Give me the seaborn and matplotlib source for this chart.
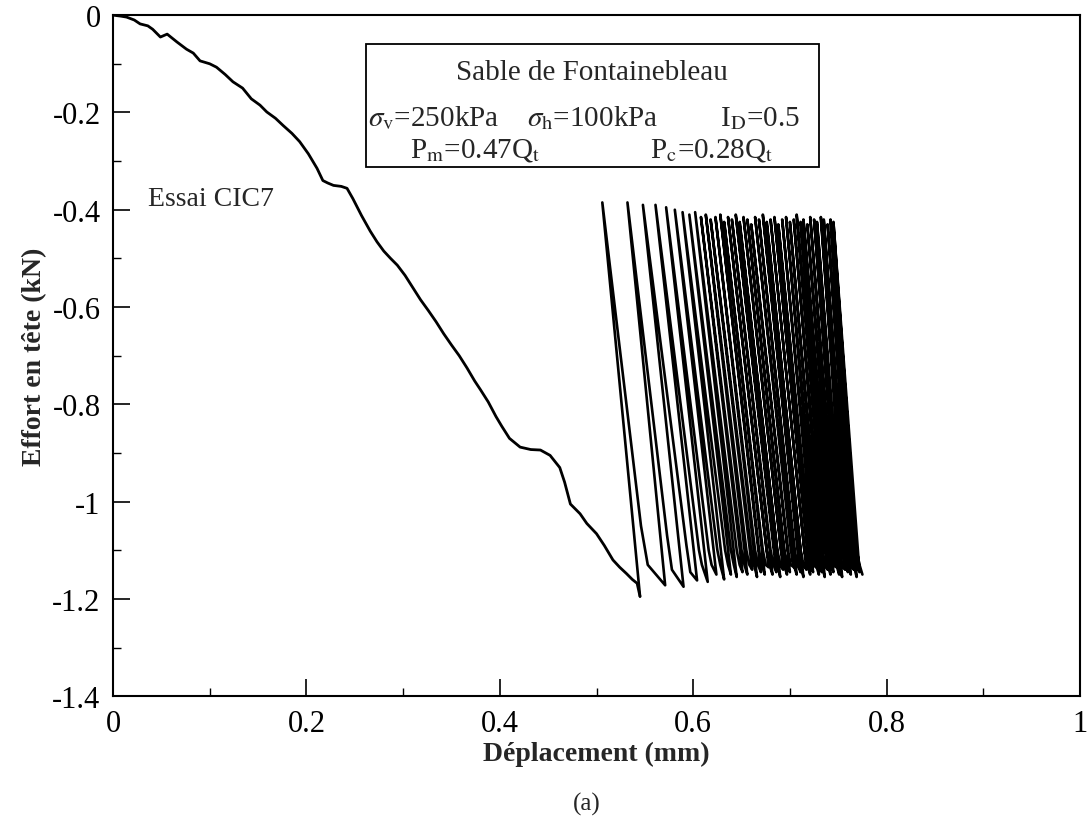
import matplotlib
matplotlib.use("Agg")
import matplotlib.pyplot as plt
import seaborn as sns
import pandas as pd

# monotonic loading branch (Déplacement mm, Effort kN)
load_x = [0.0, 0.008, 0.014, 0.022, 0.028, 0.036, 0.041, 0.049, 0.056, 0.066,
          0.076, 0.083, 0.090, 0.100, 0.107, 0.116, 0.124, 0.134, 0.143, 0.152,
          0.159, 0.168, 0.176, 0.185, 0.193, 0.202, 0.211, 0.217, 0.222, 0.228,
          0.236, 0.242, 0.248, 0.257, 0.266, 0.273, 0.280, 0.287, 0.294, 0.302,
          0.310, 0.318, 0.326, 0.334, 0.342, 0.350, 0.358, 0.366, 0.374, 0.380,
          0.388, 0.396, 0.402, 0.410, 0.421, 0.432, 0.442, 0.452, 0.462, 0.467,
          0.473, 0.478, 0.483, 0.490, 0.500, 0.508, 0.517, 0.524, 0.531, 0.537,
          0.542, 0.545]
load_y = [0.0, -0.002, -0.004, -0.010, -0.018, -0.022, -0.029, -0.045, -0.039, -0.055,
          -0.070, -0.078, -0.094, -0.100, -0.107, -0.122, -0.137, -0.150, -0.172, -0.185,
          -0.199, -0.212, -0.227, -0.243, -0.260, -0.285, -0.315, -0.340, -0.345, -0.350,
          -0.352, -0.356, -0.377, -0.412, -0.444, -0.466, -0.485, -0.500, -0.514, -0.535,
          -0.560, -0.585, -0.607, -0.630, -0.655, -0.678, -0.700, -0.725, -0.752, -0.770,
          -0.795, -0.825, -0.845, -0.870, -0.888, -0.893, -0.894, -0.905, -0.930, -0.960,
          -1.005, -1.015, -1.025, -1.045, -1.066, -1.090, -1.120, -1.135, -1.148, -1.160,
          -1.168, -1.195]

# cyclic phase, one entry per cycle:
# top of unloading, knee and rounding of reloading, bottom of reloading
top_x = [0.506, 0.532, 0.548, 0.561, 0.572, 0.581, 0.589, 0.596, 0.602, 0.608,
         0.613, 0.618, 0.623, 0.628, 0.632, 0.636, 0.640, 0.644, 0.648, 0.652,
         0.656, 0.660, 0.664, 0.668, 0.672, 0.676, 0.680, 0.684, 0.688, 0.692,
         0.696, 0.700, 0.704, 0.707, 0.711, 0.714, 0.718, 0.721, 0.725, 0.728,
         0.732, 0.735, 0.739, 0.742, 0.745]
top_y = [-0.385, -0.385, -0.390, -0.390, -0.395, -0.400, -0.405, -0.410, -0.405, -0.415,
         -0.410, -0.420, -0.415, -0.410, -0.425, -0.415, -0.420, -0.410, -0.425, -0.415,
         -0.420, -0.430, -0.415, -0.420, -0.410, -0.425, -0.420, -0.415, -0.430, -0.420,
         -0.415, -0.425, -0.420, -0.410, -0.425, -0.420, -0.430, -0.415, -0.420, -0.425,
         -0.415, -0.420, -0.430, -0.420, -0.425]
knee_x = [0.546, 0.573, 0.593, 0.606, 0.616, 0.625, 0.633, 0.639, 0.645, 0.650,
          0.655, 0.660, 0.664, 0.668, 0.672, 0.676, 0.680, 0.684, 0.687, 0.691,
          0.694, 0.698, 0.701, 0.705, 0.708, 0.711, 0.715, 0.718, 0.721, 0.724,
          0.727, 0.730, 0.733, 0.736, 0.739, 0.742, 0.745, 0.748, 0.751, 0.754,
          0.757, 0.760, 0.763, 0.766, 0.769]
knee_y = [-1.05, -1.07, -1.09, -1.10, -1.10, -1.10, -1.10, -1.10, -1.10, -1.10,
          -1.10, -1.10, -1.10, -1.10, -1.10, -1.10, -1.10, -1.10, -1.10, -1.10,
          -1.10, -1.10, -1.10, -1.10, -1.10, -1.10, -1.10, -1.10, -1.10, -1.10,
          -1.10, -1.10, -1.10, -1.10, -1.10, -1.10, -1.10, -1.10, -1.10, -1.10,
          -1.10, -1.10, -1.10, -1.10, -1.10]
round_x = [0.553, 0.578, 0.597, 0.609, 0.619, 0.628, 0.636, 0.642, 0.648, 0.653,
           0.658, 0.663, 0.667, 0.671, 0.675, 0.679, 0.683, 0.687, 0.690, 0.694,
           0.697, 0.701, 0.704, 0.708, 0.711, 0.714, 0.718, 0.721, 0.724, 0.727,
           0.730, 0.733, 0.736, 0.739, 0.742, 0.745, 0.748, 0.751, 0.754, 0.757,
           0.760, 0.763, 0.766, 0.769, 0.772]
round_y = [-1.13, -1.14, -1.145, -1.13, -1.13, -1.13, -1.13, -1.13, -1.13, -1.13,
           -1.13, -1.13, -1.13, -1.13, -1.13, -1.13, -1.13, -1.13, -1.13, -1.13,
           -1.13, -1.13, -1.13, -1.13, -1.13, -1.13, -1.13, -1.13, -1.13, -1.13,
           -1.13, -1.13, -1.13, -1.13, -1.13, -1.13, -1.13, -1.13, -1.13, -1.13,
           -1.13, -1.13, -1.13, -1.13, -1.13]
bot_x = [0.571, 0.590, 0.604, 0.615, 0.624, 0.632, 0.639, 0.645, 0.651, 0.656,
         0.661, 0.666, 0.670, 0.674, 0.678, 0.682, 0.686, 0.690, 0.693, 0.697,
         0.700, 0.704, 0.707, 0.711, 0.714, 0.717, 0.721, 0.724, 0.727, 0.730,
         0.733, 0.736, 0.739, 0.742, 0.745, 0.748, 0.751, 0.754, 0.757, 0.760,
         0.763, 0.766, 0.769, 0.772, 0.775]
bot_y = [-1.172, -1.175, -1.162, -1.165, -1.150, -1.160, -1.150, -1.155, -1.145, -1.150,
         -1.140, -1.155, -1.145, -1.150, -1.135, -1.150, -1.145, -1.155, -1.140, -1.150,
         -1.145, -1.135, -1.150, -1.145, -1.155, -1.140, -1.150, -1.145, -1.135, -1.150,
         -1.145, -1.155, -1.140, -1.150, -1.145, -1.135, -1.150, -1.155, -1.140, -1.145,
         -1.150, -1.140, -1.155, -1.145, -1.150]

x_ticks = [0, 0.2, 0.4, 0.6, 0.8, 1.0]
x_tick_labels = ["0", "0.2", "0.4", "0.6", "0.8", "1"]
y_ticks = [0, -0.2, -0.4, -0.6, -0.8, -1.0, -1.2, -1.4]
y_tick_labels = ["0", "-0.2", "-0.4", "-0.6", "-0.8", "-1", "-1.2", "-1.4"]

# chain the cyclic vertices into one path, starting from the end of loading
cyc_x = [load_x[-1]]
cyc_y = [load_y[-1]]
for i in range(len(top_x)):
    cyc_x += [top_x[i], knee_x[i], round_x[i], bot_x[i]]
    cyc_y += [top_y[i], knee_y[i], round_y[i], bot_y[i]]

load_df = pd.DataFrame({"x": load_x, "y": load_y})
cyc_df = pd.DataFrame({"x": cyc_x, "y": cyc_y})

sns.set_style("white")
plt.rcParams["font.family"] = ["Liberation Serif", "DejaVu Serif"]
plt.rcParams["mathtext.fontset"] = "stix"
plt.rcParams["axes.unicode_minus"] = False

fig = plt.figure(figsize=(10.92, 8.28), dpi=100)
ax = fig.add_axes([0.1035, 0.158, 0.8855, 0.8225])

sns.lineplot(data=load_df, x="x", y="y", sort=False, estimator=None,
             color="black", linewidth=2.0, ax=ax)
sns.lineplot(data=cyc_df, x="x", y="y", sort=False, estimator=None,
             color="black", linewidth=1.9, ax=ax)

ax.set_xlim(0, 1)
ax.set_ylim(-1.4, 0)
ax.set_xticks(x_ticks)
ax.set_xticklabels(x_tick_labels)
ax.set_yticks(y_ticks)
ax.set_yticklabels(y_tick_labels)
ax.set_xticks([0.1, 0.3, 0.5, 0.7, 0.9], minor=True)
ax.set_yticks([-0.1, -0.3, -0.5, -0.7, -0.9, -1.1, -1.3], minor=True)
ax.tick_params(which="both", top=False, right=False, bottom=True, left=True,
               direction="in", colors="black")
ax.tick_params(which="major", length=12, width=1.2, labelsize=22, pad=9)
ax.tick_params(which="minor", length=6, width=1.0)
for s in ax.spines.values():
    s.set_color("black")
    s.set_linewidth(1.5)

ax.set_xlabel("Déplacement (mm)", fontsize=20, fontweight="bold", labelpad=2)
ax.set_ylabel("Effort en tête (kN)", fontsize=20, fontweight="bold", labelpad=4)
fig.text(0.537, 0.028, "(a)", fontsize=18, ha="center", va="center")

ax.text(0.036, -0.377, "Essai CIC7", fontsize=20, ha="left", va="center")

box = plt.Rectangle((0.262, -0.312), 0.468, 0.253, fill=False,
                    edgecolor="black", linewidth=1.3)
ax.add_patch(box)
ax.text(0.495, -0.117, "Sable de Fontainebleau", fontsize=21, ha="center", va="center")
ax.text(0.264, -0.210, r"$\sigma_{\mathrm{v}}$=250kPa", fontsize=21, ha="left", va="center")
ax.text(0.428, -0.210, r"$\sigma_{\mathrm{h}}$=100kPa", fontsize=21, ha="left", va="center")
ax.text(0.628, -0.210, r"I$_{\mathrm{D}}$=0.5", fontsize=21, ha="left", va="center")
ax.text(0.307, -0.276, r"P$_{\mathrm{m}}$=0.47Q$_{\mathrm{t}}$", fontsize=21, ha="left", va="center")
ax.text(0.555, -0.276, r"P$_{\mathrm{c}}$=0.28Q$_{\mathrm{t}}$", fontsize=21, ha="left", va="center")

fig.savefig("out.png", dpi=100, facecolor="white")
